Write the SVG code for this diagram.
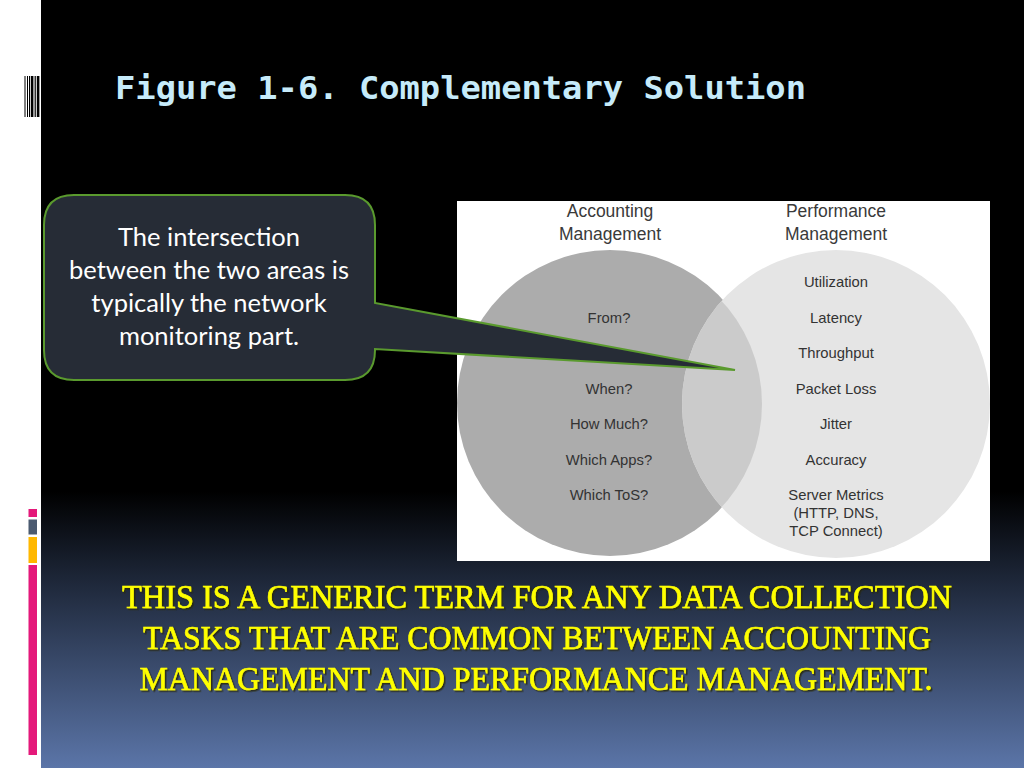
<svg xmlns="http://www.w3.org/2000/svg" width="1024" height="768" viewBox="0 0 1024 768">
  <defs>
    <linearGradient id="bg" x1="0" y1="0" x2="0" y2="768" gradientUnits="userSpaceOnUse">
      <stop offset="0" stop-color="#000000"/>
      <stop offset="0.64" stop-color="#000000"/>
      <stop offset="0.75" stop-color="#1c2536"/>
      <stop offset="1" stop-color="#5b75a8"/>
    </linearGradient>
    <clipPath id="leftClip">
      <circle cx="610" cy="404" r="152"/>
    </clipPath>
    <filter id="shadow" x="-5%" y="-20%" width="110%" height="150%">
      <feDropShadow dx="1.5" dy="1.5" stdDeviation="0.6" flood-color="#2a2a10" flood-opacity="0.9"/>
    </filter>
    <style>
      .title { font-family: "DejaVu Sans Mono", "Liberation Mono", monospace; font-weight: bold; font-size: 32px; fill: #c6ebfa; }
      .call { font-family: "Lato", "Open Sans", sans-serif; font-size: 25.5px; fill: #ffffff; text-anchor: middle; }
      .vhead { font-family: "Liberation Sans", Arial, sans-serif; font-size: 17.5px; fill: #3a3a3a; text-anchor: middle; }
      .vitem { font-family: "Liberation Sans", Arial, sans-serif; font-size: 14.8px; fill: #333333; text-anchor: middle; }
      .note { font-family: "Liberation Serif", "DejaVu Serif", serif; font-size: 34px; fill: #ffff00; stroke: #ffff00; stroke-width: 0.6; text-anchor: middle; }
    </style>
  </defs>

  <!-- background -->
  <rect x="0" y="0" width="1024" height="768" fill="url(#bg)"/>
  <rect x="0" y="0" width="41" height="768" fill="#ffffff"/>

  <!-- left decorations -->
  <g id="barcode" fill="#000000">
    <rect x="24.5" y="76" width="1" height="41"/>
    <rect x="27" y="76" width="1" height="41"/>
    <rect x="29" y="76" width="1" height="41"/>
    <rect x="30.8" y="76" width="2.6" height="41"/>
    <rect x="34.6" y="76" width="1.2" height="41"/>
    <rect x="36.8" y="76" width="2.6" height="41"/>
  </g>
  <g id="sidebars">
    <rect x="28.5" y="509" width="8.5" height="8" fill="#e4197a"/>
    <rect x="28.5" y="519.5" width="8.5" height="15" fill="#4b5a70"/>
    <rect x="28.5" y="537" width="8.5" height="26" fill="#ffb800"/>
    <rect x="28.5" y="565" width="8.5" height="190" fill="#e4197a"/>
  </g>

  <!-- title -->
  <text id="title" class="title" x="115" y="99" textLength="691" lengthAdjust="spacingAndGlyphs">Figure 1-6. Complementary Solution</text>

  <!-- Venn figure -->
  <g id="venn">
    <rect x="457" y="201" width="533" height="360" fill="#ffffff"/>
    <circle cx="610" cy="403" r="153" fill="#acacac"/>
    <circle cx="836" cy="404" r="154" fill="#e5e5e5"/>
    <circle cx="836" cy="404" r="154" fill="#cbcbcb" clip-path="url(#leftClip)"/>
    <g id="accounting">
      <text class="vhead" x="610" y="217">Accounting</text>
      <text class="vhead" x="610" y="240">Management</text>
      <text class="vitem" x="609" y="323">From?</text>
      <text class="vitem" x="609" y="394">When?</text>
      <text class="vitem" x="609" y="429">How Much?</text>
      <text class="vitem" x="609" y="465">Which Apps?</text>
      <text class="vitem" x="609" y="500">Which ToS?</text>
    </g>
    <g id="performance">
      <text class="vhead" x="836" y="217">Performance</text>
      <text class="vhead" x="836" y="240">Management</text>
      <text class="vitem" x="836" y="287">Utilization</text>
      <text class="vitem" x="836" y="323">Latency</text>
      <text class="vitem" x="836" y="358">Throughput</text>
      <text class="vitem" x="836" y="394">Packet Loss</text>
      <text class="vitem" x="836" y="429">Jitter</text>
      <text class="vitem" x="836" y="465">Accuracy</text>
      <text class="vitem" x="836" y="500">Server Metrics</text>
      <text class="vitem" x="836" y="518">(HTTP, DNS,</text>
      <text class="vitem" x="836" y="536">TCP Connect)</text>
    </g>
  </g>

  <!-- callout -->
  <g id="callout">
    <path d="M74,195 H345 Q375,195 375,225 V303 L735,370 L375,349 V350 Q375,380 345,380 H74 Q44,380 44,350 V225 Q44,195 74,195 Z" fill="#262c36" stroke="#5a9a2e" stroke-width="2" stroke-linejoin="miter"/>
    <text class="call" x="209" y="246">The intersection</text>
    <text class="call" x="209" y="279">between the two areas is</text>
    <text class="call" x="209" y="312">typically the network</text>
    <text class="call" x="209" y="345">monitoring part.</text>
  </g>

  <!-- bottom note -->
  <g id="note" filter="url(#shadow)">
    <text class="note" x="537" y="608" textLength="830" lengthAdjust="spacingAndGlyphs">THIS IS A GENERIC TERM FOR ANY DATA COLLECTION</text>
    <text class="note" x="537" y="649" textLength="788" lengthAdjust="spacingAndGlyphs">TASKS THAT ARE COMMON BETWEEN ACCOUNTING</text>
    <text class="note" x="536" y="690" textLength="793" lengthAdjust="spacingAndGlyphs">MANAGEMENT AND PERFORMANCE MANAGEMENT.</text>
  </g>
</svg>
